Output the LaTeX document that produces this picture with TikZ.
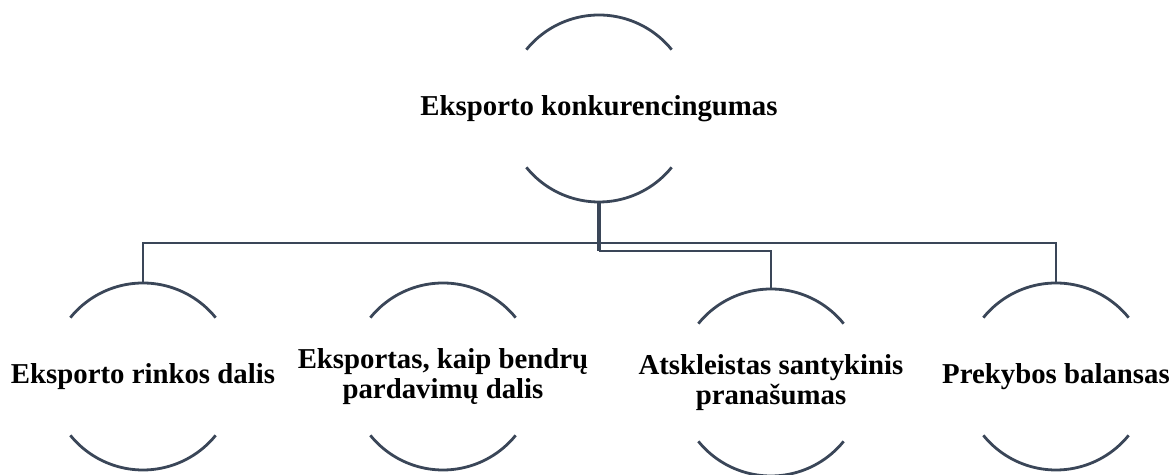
\documentclass[tikz,border=0pt]{standalone}
\usepackage{fontspec}
\setmainfont{Liberation Serif}
\usetikzlibrary{positioning,calc}
\definecolor{ringgray}{RGB}{58,70,88}

\begin{document}
\begin{tikzpicture}[x=0.5pt, y=0.5pt,
  ringnode/.style={circle, minimum size=93.5pt, inner sep=0pt, outer sep=0pt},
  ringtext/.style={align=center, inner sep=0pt, font=\fontsize{14.4}{15}\selectfont\bfseries},
  ringarc/.style={draw=ringgray, line width=1.4pt},
  busline/.style={draw=ringgray, line width=1.2pt}]
\useasboundingbox (0,0) rectangle (1173,475);
% rings
\node[ringnode] (top) at (599,366.5) {};
\node[ringnode] (share) at (143,98.5) {};
\node[ringnode] (sales) at (443,98.5) {};
\node[ringnode] (rca) at (771,92.5) {};
\node[ringnode] (trade) at (1056,98.5) {};
\foreach \n in {top,share,sales,rca,trade} {
  \draw[ringarc] (\n.141) arc[start angle=141, end angle=39, radius=46.75pt];
  \draw[ringarc] (\n.-141) arc[start angle=-141, end angle=-39, radius=46.75pt];
}
% labels
\node[ringtext] (toplbl) at (top) {Eksporto konkurencingumas};
\node[ringtext] (sharelbl) at (share) {Eksporto rinkos dalis};
\node[ringtext] (saleslbl) at (sales) {Eksportas, kaip bendrų\\pardavimų dalis};
\node[ringtext] (rcalbl) at (rca) {Atskleistas santykinis\\pranašumas};
\node[ringtext] (tradelbl) at (trade) {Prekybos balansas};
% connectors
\coordinate (bus) at (599,232);
\coordinate (fork) at (599,224);
\draw[busline] (share.north) |- (bus) -| (trade.north);
\draw[ringgray, line width=2pt] (top.south) -- (fork);
\draw[busline] (fork) -| (rca.north);
\end{tikzpicture}
\end{document}
